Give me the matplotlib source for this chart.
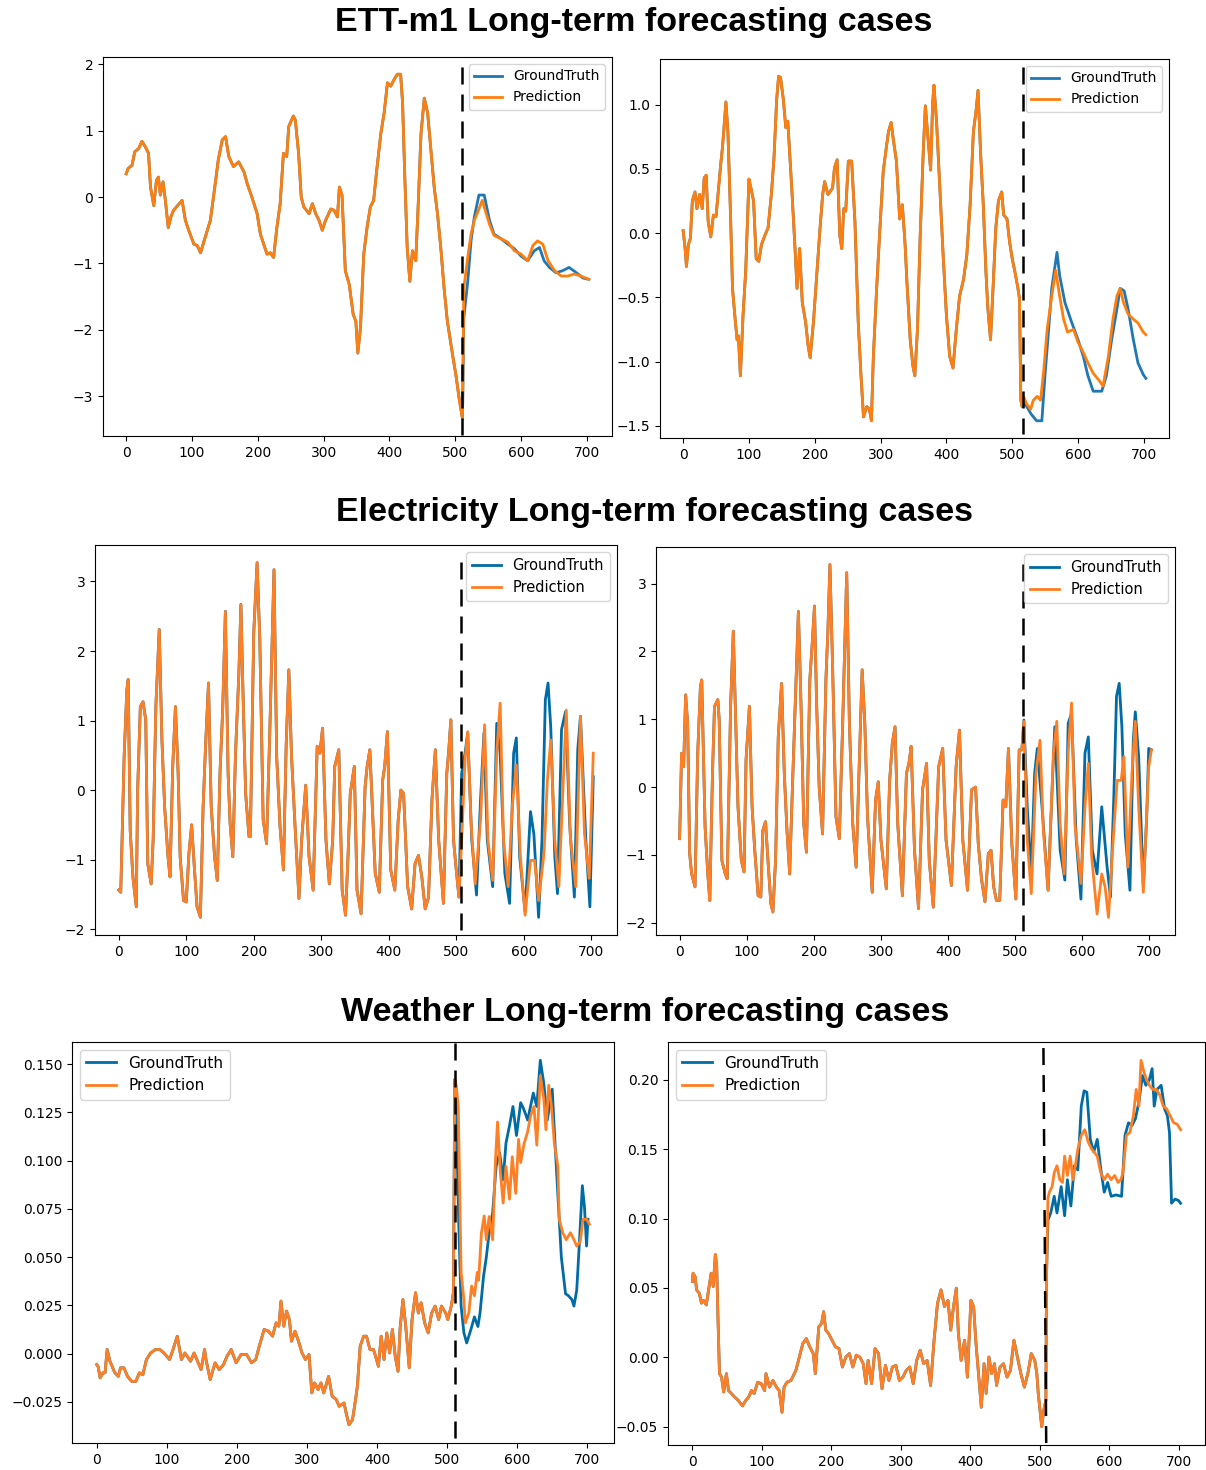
import numpy as np
import matplotlib
matplotlib.use('Agg')
import matplotlib.pyplot as plt

# ---------------- ETT-m1 (row 1) ----------------
ett1_hist_x = [0, 3, 9, 13, 19, 24, 29, 34, 37, 42, 46, 49, 52, 56, 59, 64, 68, 72, 78, 85,
               90, 95, 103, 108, 113, 120, 128, 136, 140, 146, 151, 156, 163, 171, 179, 184, 191, 199, 204, 209,
               214, 219, 224, 229, 234, 239, 244, 247, 254, 257, 262, 266, 270, 278, 283, 288, 293, 298, 303, 311,
               316, 321, 324, 328, 333, 339, 345, 349, 352, 356, 361, 366, 371, 376, 381, 387, 392, 397, 402, 407,
               412, 417, 420, 423, 427, 431, 435, 440, 444, 448, 453, 458, 463, 468, 473, 478, 483, 488, 496, 501,
               506, 511]
ett1_hist_y = [0.35, 0.43, 0.48, 0.68, 0.73, 0.84, 0.76, 0.66, 0.15, -0.13, 0.25, 0.30, 0.03, 0.23, 0.0, -0.46, -0.30, -0.20, -0.13, -0.05,
               -0.35, -0.50, -0.71, -0.73, -0.84, -0.61, -0.35, 0.25, 0.56, 0.86, 0.91, 0.61, 0.46, 0.53, 0.38, 0.20, 0.0, -0.25, -0.56, -0.71,
               -0.86, -0.84, -0.91, -0.46, -0.10, 0.66, 0.61, 1.06, 1.22, 1.16, 0.66, 0.0, -0.15, -0.25, -0.10, -0.25, -0.35, -0.50, -0.35, -0.18,
               -0.20, -0.30, 0.15, 0.03, -1.11, -1.32, -1.77, -1.87, -2.35, -1.97, -0.86, -0.46, -0.15, -0.05, 0.43, 0.96, 1.27, 1.72, 1.67, 1.77,
               1.85, 1.85, 1.42, 0.41, -0.76, -1.27, -0.81, -0.96, -0.05, 0.96, 1.49, 1.27, 0.71, 0.15, -0.25, -0.76, -1.37, -1.87, -2.38, -2.68,
               -3.04, -3.34]
ett1_gt_x = [513, 519, 524, 529, 536, 544, 552, 559, 570, 580, 590, 600, 610, 620, 628, 635, 643, 653, 663, 673, 684, 694, 703]
ett1_gt_y = [-1.82, -1.27, -0.66, -0.30, 0.03, 0.03, -0.35, -0.56, -0.63, -0.71, -0.78, -0.89, -0.96, -0.81, -0.76, -0.96,
             -1.06, -1.14, -1.11, -1.06, -1.14, -1.22, -1.24]
ett1_pred_x = [513, 519, 524, 529, 534, 541, 544, 552, 559, 570, 580, 590, 600, 610, 618, 625, 633, 641, 651, 661, 671, 681, 691, 703]
ett1_pred_y = [-1.37, -0.91, -0.56, -0.35, -0.23, -0.05, -0.15, -0.41, -0.58, -0.63, -0.68, -0.81, -0.86, -0.96, -0.73, -0.66,
               -0.71, -0.96, -1.11, -1.19, -1.19, -1.16, -1.19, -1.24]

ett2_hist_x = [0, 3, 5, 8, 11, 14, 18, 21, 25, 29, 32, 35, 38, 42, 46, 50, 53, 57, 60, 62,
               65, 68, 72, 75, 79, 82, 84, 87, 91, 95, 100, 103, 107, 111, 115, 119, 124, 129, 134, 138,
               142, 145, 148, 152, 156, 159, 165, 170, 173, 177, 181, 186, 190, 193, 198, 203, 208, 212, 215, 220,
               227, 230, 234, 238, 241, 244, 247, 251, 256, 261, 266, 270, 274, 279, 283, 286, 289, 294, 299, 304,
               308, 312, 316, 319, 324, 329, 333, 337, 340, 345, 349, 352, 356, 360, 365, 368, 372, 376, 379, 381,
               385, 390, 395, 400, 405, 410, 415, 420, 426, 431, 436, 441, 445, 448, 452, 456, 460, 463, 467, 471,
               475, 479, 484, 487, 492, 496, 500, 504, 508, 511, 513, 515]
ett2_hist_y = [0.02, -0.12, -0.26, -0.09, -0.04, 0.25, 0.32, 0.19, 0.30, 0.19, 0.43, 0.45, 0.09, -0.03, 0.14, 0.13, 0.30, 0.53, 0.68, 0.82,
               1.02, 0.79, 0.14, -0.43, -0.67, -0.83, -0.80, -1.11, -0.64, -0.30, 0.42, 0.35, 0.25, -0.20, -0.22, -0.09, -0.02, 0.04, 0.30, 0.58,
               1.03, 1.22, 1.21, 1.05, 0.82, 0.87, 0.35, -0.12, -0.43, -0.12, -0.54, -0.69, -0.88, -0.97, -0.69, -0.33, 0.04, 0.30, 0.40, 0.30,
               0.35, 0.51, 0.57, -0.02, -0.12, 0.19, 0.17, 0.56, 0.56, 0.09, -0.69, -1.09, -1.43, -1.35, -1.37, -1.46, -0.96, -0.43, 0.04, 0.48,
               0.64, 0.79, 0.86, 0.74, 0.56, 0.11, 0.22, -0.07, -0.38, -0.83, -1.03, -1.11, -0.75, -0.04, 0.66, 0.99, 0.74, 0.49, 1.00, 1.15,
               0.87, 0.35, -0.17, -0.64, -0.96, -1.05, -0.75, -0.49, -0.36, -0.17, 0.22, 0.79, 0.95, 1.11, 0.61, 0.22, -0.30, -0.59, -0.83, -0.41,
               0.04, 0.25, 0.32, 0.14, 0.11, -0.07, -0.20, -0.30, -0.41, -0.51, -1.30, -1.35]
ett2_gt_x = [517, 522, 529, 537, 545, 550, 555, 560, 568, 572, 580, 590, 600, 608, 615, 623, 636, 643, 651, 659,
             664, 670, 676, 684, 691, 699, 703]
ett2_gt_y = [-1.32, -1.35, -1.41, -1.46, -1.46, -1.09, -0.77, -0.43, -0.15, -0.33, -0.54, -0.69, -0.83, -0.96, -1.11, -1.23,
             -1.23, -1.11, -0.83, -0.59, -0.43, -0.45, -0.59, -0.83, -1.01, -1.10, -1.13]
ett2_pred_x = [517, 522, 528, 532, 538, 543, 548, 553, 560, 566, 572, 578, 584, 593, 600, 608, 615, 623, 631, 638,
               646, 653, 659, 664, 669, 676, 684, 691, 699, 703]
ett2_pred_y = [-1.27, -1.33, -1.37, -1.30, -1.27, -1.30, -1.06, -0.75, -0.49, -0.29, -0.49, -0.67, -0.77, -0.75, -0.85, -0.93,
               -1.01, -1.09, -1.14, -1.19, -0.96, -0.67, -0.49, -0.43, -0.54, -0.63, -0.67, -0.70, -0.77, -0.79]

# ---------------- Electricity (row 2) ----------------
elec1_hist_x = [0, 3, 8, 12, 14, 17, 21, 26, 28, 32, 36, 40, 43, 48, 51, 55, 60, 64, 68, 73,
                76, 80, 84, 88, 91, 96, 100, 104, 108, 112, 116, 121, 125, 129, 133, 137, 142, 146, 150, 154,
                158, 162, 165, 169, 173, 178, 181, 184, 188, 193, 195, 200, 205, 209, 214, 219, 224, 230, 234, 239,
                244, 248, 252, 256, 261, 267, 271, 277, 282, 288, 294, 298, 302, 307, 312, 317, 320, 326, 331, 336,
                340, 343, 349, 353, 359, 365, 368, 372, 380, 386, 391, 394, 398, 403, 409, 414, 418, 422, 428, 434,
                439, 444, 449, 454, 459, 464, 469, 474, 481, 486, 489, 492, 496, 500, 504]
elec1_hist_y = [-1.44, -1.47, 0.48, 1.44, 1.59, -0.58, -1.25, -1.68, 0.0, 1.20, 1.27, 1.01, -1.06, -1.35, -0.72, 1.20, 2.31, 0.72, -0.24, -0.96,
                -1.25, 0.34, 1.20, 0.24, -0.96, -1.59, -1.61, -0.91, -0.50, -1.11, -1.68, -1.83, -0.24, 0.72, 1.54, -0.24, -0.96, -1.30, 0.24, 1.15,
                2.57, 0.24, -0.48, -0.96, 0.53, 1.68, 2.67, 1.44, -0.05, -0.67, -0.67, 2.26, 3.27, 2.16, -0.43, -0.77, 0.91, 3.17, 0.48, -0.53,
                -1.15, 0.63, 1.73, 0.48, -0.48, -1.56, -0.72, 0.07, -0.96, -1.44, 0.63, 0.53, 0.89, -0.72, -1.35, -0.72, 0.34, 0.58, -1.44, -1.80,
                -0.87, -0.05, 0.34, -1.44, -1.78, 0.05, 0.34, 0.58, -1.20, -1.47, 0.14, 0.34, 0.84, -1.15, -1.44, -0.43, 0.0, -0.05, -1.39, -1.71,
                -1.06, -0.94, -1.25, -1.71, -1.54, -0.14, 0.58, -0.72, -1.63, 0.24, 0.58, 1.01, -0.72, -1.15, -1.54]
elec1_gt_x = [508, 513, 517, 523, 530, 536, 541, 546, 554, 560, 565, 572, 579, 585, 589, 594, 602, 610, 615, 622,
              627, 632, 636, 640, 646, 650, 656, 662, 668, 675, 680, 684, 692, 698, 703]
elec1_gt_y = [0.24, 0.53, 0.82, -0.72, -1.51, -0.14, 0.82, -0.72, -1.39, 0.96, 0.53, -1.20, -1.63, 0.53, 0.75, -0.96, -1.75, -0.31, -0.63, -1.83,
              -0.72, 1.30, 1.54, 0.91, -0.96, -1.49, 0.87, 1.13, -0.48, -1.54, 0.58, 1.06, -0.72, -1.68, 0.19]
elec1_pred_x = [508, 513, 517, 522, 528, 536, 542, 547, 554, 560, 565, 570, 577, 583, 589, 595, 602, 610, 616, 622,
                630, 635, 640, 646, 652, 658, 663, 669, 677, 684, 690, 697, 703]
elec1_pred_y = [-0.72, 0.43, 0.84, -0.48, -1.35, -0.43, 0.94, -0.72, -1.30, 0.53, 1.25, -0.72, -1.39, -0.24, 0.36, -0.96, -1.80, -1.01, -1.01, -1.59,
                -0.91, 0.14, 0.72, -0.72, -1.39, 0.0, 1.15, -0.67, -1.39, 1.06, -0.63, -1.27, 0.53]

elec2_hist_x = [0, 3, 6, 9, 12, 15, 18, 23, 27, 31, 33, 38, 42, 45, 49, 52, 57, 59, 63, 68,
                71, 76, 80, 83, 87, 92, 96, 99, 104, 108, 112, 117, 121, 124, 128, 132, 136, 139, 143, 147,
                152, 156, 160, 164, 168, 172, 177, 181, 185, 189, 194, 197, 201, 204, 208, 213, 218, 221, 224, 228,
                233, 238, 243, 249, 253, 258, 263, 268, 272, 276, 280, 287, 292, 296, 300, 308, 313, 317, 321, 325,
                332, 338, 342, 345, 350, 356, 362, 368, 372, 378, 386, 392, 397, 405, 412, 417, 422, 429, 435, 441,
                445, 450, 455, 460, 464, 468, 472, 477, 482, 486, 490, 495, 501, 506, 510]
elec2_hist_y = [-0.76, 0.50, 0.30, 1.36, 0.94, -0.98, -1.28, -1.47, 0.50, 1.48, 1.58, -0.59, -1.28, -1.67, 0.20, 1.19, 1.29, 0.99, -1.08, -1.28,
                -1.35, 1.19, 2.30, 1.19, -0.29, -1.08, -1.25, 0.40, 1.19, -0.29, -0.93, -1.60, -1.62, -0.64, -0.51, -1.13, -1.72, -1.84, -1.08, 0.74,
                1.53, 0.20, -0.64, -1.28, -0.04, 1.14, 2.59, 1.19, -0.54, -0.96, 1.58, 2.02, 2.67, 1.29, 0.0, -0.69, 1.58, 2.32, 3.28, 1.78,
                -0.44, -0.76, 0.94, 3.16, 0.94, -0.54, -1.18, 0.45, 1.73, 0.94, -0.44, -1.55, -0.19, 0.08, -0.78, -1.50, 0.10, 0.65, 0.89, -0.54,
                -1.60, 0.20, 0.37, 0.60, -0.93, -1.79, -0.04, 0.35, -1.08, -1.77, 0.30, 0.57, -0.78, -1.45, 0.30, 0.84, -0.78, -1.52, -0.04, 0.0,
                -0.83, -1.37, -1.69, -0.98, -0.93, -1.47, -1.67, -1.67, -0.19, -0.29, 0.57, -0.83, -1.65, 0.55, 0.55]
elec2_gt_x = [513, 518, 524, 529, 533, 540, 549, 556, 559, 567, 574, 579, 584, 591, 598, 604, 609, 615, 622, 629,
              637, 642, 647, 651, 655, 659, 664, 671, 676, 679, 684, 691, 696, 699, 703]
elec2_gt_y = [0.99, -0.29, -1.28, 0.20, 0.57, -0.29, -1.52, 0.20, 0.89, -0.93, -1.37, 0.94, 1.09, -0.78, -1.65, 0.50, 0.74, -0.93, -1.28, -0.29,
              -1.18, -1.62, -0.14, 1.34, 1.53, 0.89, -0.69, -1.52, 0.69, 1.11, 0.45, -1.47, -0.44, 0.57, 0.55]
elec2_pred_x = [513, 518, 524, 531, 537, 542, 549, 557, 562, 567, 573, 579, 584, 589, 598, 604, 609, 614, 622, 629,
                634, 639, 646, 652, 658, 662, 668, 674, 679, 684, 691, 699, 703]
elec2_pred_y = [0.97, -0.78, -1.57, 0.20, 0.69, -0.64, -1.52, 0.50, 0.97, -0.54, -1.28, 0.50, 1.24, -0.54, -1.42, -0.29, 0.35, -1.03, -1.87, -1.28,
                -1.47, -1.92, -0.78, 0.10, 0.10, 0.45, -1.18, 0.20, 0.97, -0.29, -1.55, 0.30, 0.55]

# ---------------- Weather (row 3) ----------------
wth1_hist_x = [0, 2, 5, 9, 12, 15, 19, 24, 26, 31, 34, 39, 44, 50, 56, 61, 66, 71, 77, 84,
               90, 96, 104, 109, 115, 121, 126, 134, 139, 143, 149, 154, 156, 162, 169, 175, 181, 186, 192, 199,
               206, 214, 221, 227, 232, 239, 245, 251, 256, 260, 263, 267, 271, 275, 278, 283, 288, 293, 298, 303,
               307, 311, 316, 320, 324, 331, 336, 342, 346, 353, 356, 360, 365, 368, 372, 376, 381, 385, 390, 395,
               398, 402, 406, 410, 414, 418, 422, 426, 430, 433, 437, 441, 446, 450, 455, 459, 463, 468, 473, 478,
               483, 488, 492, 498, 501, 506, 509, 511]
wth1_hist_y = [-0.0057, -0.0066, -0.0126, -0.010, -0.010, 0.0021, -0.004, -0.0083, -0.010, -0.0118,
               -0.0074, -0.0074, -0.0118, -0.0144, -0.0144, -0.010, -0.011, -0.0031, 0.0003, 0.0021,
               0.0021, 0.0003, -0.0031, 0.0021, 0.009, -0.0031, 0.0003, -0.004, 0.0003, -0.0031,
               -0.0083, 0.0021, -0.0031, -0.0135, -0.0048, -0.0083, -0.0057, -0.0014, 0.0021, -0.0048,
               -0.0005, -0.0005, -0.0048, -0.0031, 0.0038, 0.0125, 0.0116, 0.009, 0.0159, 0.0142,
               0.0272, 0.0142, 0.022, 0.0176, 0.0064, 0.0116, 0.0064, 0.0003, -0.0031, -0.0005,
               -0.0204, -0.0152, -0.0187, -0.0152, -0.0204, -0.0118, -0.0221, -0.0239, -0.0273, -0.0256,
               -0.0308, -0.0369, -0.0343, -0.0273, -0.017, 0.0038, 0.009, 0.009, 0.0021, 0.0021,
               -0.0014, -0.0066, 0.009, -0.0031, 0.0107, 0.0003, 0.0125, -0.0014, -0.0092, 0.0133,
               0.028, 0.0142, -0.0074, 0.0176, 0.0315, 0.021, 0.0263, 0.0159, 0.0107, 0.021,
               0.0246, 0.0176, 0.0246, 0.021, 0.0176, 0.0246, 0.0315, 0.142]
wth1_gt_x = [513, 516, 520, 524, 528, 534, 539, 544, 547, 552, 556, 560, 565, 570, 575, 580, 584, 589, 594, 599,
             605, 609, 615, 623, 628, 633, 638, 643, 650, 654, 658, 663, 669, 673, 678, 681, 685, 689, 693, 696,
             699, 701]
wth1_gt_y = [0.128, 0.076, 0.0246, 0.0107, 0.0055, 0.0125, 0.019, 0.014, 0.021, 0.040,
             0.050, 0.0626, 0.073, 0.097, 0.104, 0.090, 0.109, 0.118, 0.128, 0.113,
             0.130, 0.127, 0.121, 0.135, 0.128, 0.152, 0.140, 0.121, 0.137, 0.109,
             0.083, 0.050, 0.031, 0.030, 0.028, 0.0246, 0.033, 0.059, 0.087, 0.076,
             0.0557, 0.0696]
wth1_pred_x = [513, 516, 520, 524, 526, 531, 535, 539, 543, 545, 549, 553, 556, 560, 565, 569, 572, 576, 580, 584,
               589, 593, 598, 602, 605, 610, 615, 619, 624, 628, 633, 638, 641, 645, 649, 653, 658, 660, 665, 670,
               676, 681, 685, 690, 694, 699, 703]
wth1_pred_y = [0.139, 0.128, 0.042, 0.028, 0.0159, 0.021, 0.035, 0.030, 0.042, 0.038,
               0.0626, 0.0713, 0.059, 0.071, 0.059, 0.100, 0.120, 0.094, 0.078, 0.097,
               0.080, 0.102, 0.083, 0.111, 0.099, 0.109, 0.115, 0.123, 0.128, 0.108,
               0.144, 0.132, 0.116, 0.139, 0.128, 0.109, 0.097, 0.0696, 0.0626, 0.059,
               0.0626, 0.059, 0.0557, 0.058, 0.0696, 0.0696, 0.067]

wth2_hist_x = [0, 1, 4, 6, 10, 13, 16, 20, 24, 27, 30, 33, 35, 37, 39, 42, 45, 49, 52, 56,
               61, 66, 72, 77, 81, 85, 89, 94, 99, 104, 106, 111, 116, 121, 125, 129, 132, 136, 142, 149,
               154, 159, 164, 169, 174, 177, 182, 186, 189, 192, 196, 201, 206, 211, 216, 221, 226, 231, 236, 241,
               246, 250, 253, 258, 263, 268, 273, 278, 283, 288, 293, 298, 303, 308, 313, 318, 323, 328, 333, 338,
               343, 348, 353, 358, 363, 368, 372, 376, 380, 383, 387, 392, 396, 401, 405, 408, 412, 416, 420, 423,
               427, 431, 435, 438, 443, 448, 453, 458, 463, 468, 473, 478, 483, 488, 493, 496, 498, 503, 506, 509]
wth2_hist_y = [0.0546, 0.0606, 0.058, 0.0486, 0.046, 0.039, 0.041, 0.0377, 0.051, 0.0606,
               0.051, 0.074, 0.0655, 0.0244, -0.0118, -0.0143, -0.025, -0.0118, -0.024, -0.026,
               -0.0287, -0.031, -0.035, -0.031, -0.0287, -0.024, -0.026, -0.018, -0.019, -0.024,
               -0.0118, -0.0215, -0.0167, -0.0215, -0.024, -0.0396, -0.0215, -0.018, -0.0167, -0.0094,
               0.0002, 0.0099, 0.0135, 0.0075, 0.0027, -0.0118, 0.022, 0.0244, 0.0329, 0.0196,
               0.0172, 0.0123, 0.0075, 0.0063, -0.007, 0.0002, 0.0027, -0.007, 0.0015, 0.0002,
               -0.0046, -0.019, -0.0022, -0.019, 0.0063, 0.0027, -0.0227, -0.0058, -0.0167, -0.007,
               -0.0058, -0.0167, -0.0143, -0.0094, -0.007, -0.019, -0.0022, 0.0051, -0.0046, -0.0022,
               -0.0203, 0.0123, 0.039, 0.0486, 0.0365, 0.041, 0.0196, 0.0365, 0.0498, 0.0172,
               -0.0022, 0.0123, -0.0143, 0.041, 0.0365, 0.0123, -0.0118, -0.036, -0.0046, -0.026,
               0.0002, -0.0118, -0.0046, -0.0203, -0.007, -0.0046, -0.0143, -0.0094, 0.0123, 0.0002,
               -0.0118, -0.0215, -0.0118, 0.0027, -0.0022, -0.0118, -0.026, -0.050, -0.038, -0.031]
wth2_gt_x = [510, 512, 516, 521, 525, 531, 536, 540, 545, 550, 555, 560, 564, 568, 573, 578, 583, 588, 593, 598,
             603, 610, 618, 623, 628, 633, 638, 643, 648, 653, 658, 662, 665, 669, 675, 680, 684, 687, 690, 695,
             700, 703]
wth2_gt_y = [0.0606, 0.099, 0.104, 0.116, 0.104, 0.123, 0.102, 0.128, 0.109, 0.138,
             0.135, 0.181, 0.192, 0.191, 0.157, 0.148, 0.157, 0.136, 0.119, 0.126,
             0.116, 0.117, 0.116, 0.160, 0.169, 0.167, 0.172, 0.184, 0.203, 0.196,
             0.200, 0.208, 0.181, 0.193, 0.196, 0.179, 0.174, 0.162, 0.111, 0.114,
             0.113, 0.111]
wth2_pred_x = [510, 512, 514, 518, 521, 525, 529, 533, 536, 540, 544, 548, 552, 555, 560, 565, 570, 575, 583, 588,
               593, 598, 603, 608, 613, 617, 620, 625, 630, 635, 639, 643, 646, 650, 654, 658, 663, 668, 673, 678,
               683, 688, 693, 698, 703]
wth2_pred_y = [0.0606, 0.115, 0.119, 0.123, 0.133, 0.138, 0.128, 0.126, 0.145, 0.131,
               0.145, 0.128, 0.140, 0.150, 0.160, 0.164, 0.155, 0.150, 0.145, 0.133,
               0.128, 0.132, 0.128, 0.131, 0.126, 0.128, 0.133, 0.160, 0.162, 0.174,
               0.193, 0.181, 0.214, 0.206, 0.200, 0.196, 0.193, 0.193, 0.189, 0.181,
               0.179, 0.174, 0.169, 0.168, 0.164]

titles = ['ETT-m1 Long-term forecasting cases',
          'Electricity Long-term forecasting cases',
          'Weather Long-term forecasting cases']


def draw_case(ax, hx, hy, gx, gy, px, py, split, colors, loc, fs, top, bottom, split_bottom=None):
    """画一个预测样例：历史 + 真实值 / 预测值"""
    ax.plot(hx + gx, hy + gy, color=colors[0], lw=2, label='GroundTruth')
    ax.plot(hx + px, hy + py, color=colors[1], lw=2, label='Prediction')
    # 分割线（输入 / 预测）
    if split_bottom is None:
        split_bottom = split
    ax.plot([split, split_bottom], [top, bottom], color='k', lw=1.8,
            linestyle=(0, (6.8, 4)), transform=ax.get_xaxis_transform())
    ax.legend(loc=loc, fontsize=fs)
    ax.tick_params(labelsize=10)


W, H = 1206, 1470
fig = plt.figure(figsize=(W / 100, H / 100), dpi=100)


def add_ax(l, t, r, b):
    return fig.add_axes([l / W, 1 - b / H, (r - l) / W, (b - t) / H])


c_top = ('#1f77b4', '#ff7f0e')
c_low = ('#006BA4', '#FF7F24')

ax = add_ax(103, 57, 612, 436)
draw_case(ax, ett1_hist_x, ett1_hist_y, ett1_gt_x, ett1_gt_y, ett1_pred_x, ett1_pred_y,
          510, c_top, 'upper right', 10, 0.974, 0.0)
ax = add_ax(660, 59, 1169, 438)
draw_case(ax, ett2_hist_x, ett2_hist_y, ett2_gt_x, ett2_gt_y, ett2_pred_x, ett2_pred_y,
          516, c_top, 'upper right', 10, 0.98, 0.01)

ax = add_ax(95, 545, 617, 935)
draw_case(ax, elec1_hist_x, elec1_hist_y, elec1_gt_x, elec1_gt_y, elec1_pred_x, elec1_pred_y,
          507, c_low, 'upper right', 10.5, 0.957, 0.01)
ax = add_ax(656, 547, 1175, 935)
draw_case(ax, elec2_hist_x, elec2_hist_y, elec2_gt_x, elec2_gt_y, elec2_pred_x, elec2_pred_y,
          511, c_low, 'upper right', 10.5, 0.955, 0.01)

ax = add_ax(72, 1042, 614, 1443)
draw_case(ax, wth1_hist_x, wth1_hist_y, wth1_gt_x, wth1_gt_y, wth1_pred_x, wth1_pred_y,
          512, c_low, 'upper left', 11, 0.997, 0.012)
ax = add_ax(668, 1042, 1205, 1445)
draw_case(ax, wth2_hist_x, wth2_hist_y, wth2_gt_x, wth2_gt_y, wth2_pred_x, wth2_pred_y,
          505.5, c_low, 'upper left', 11, 0.985, 0.0, split_bottom=509.5)

# 每行的大标题
for title, (cx, cy) in zip(titles, [(634, 23), (655, 512), (645, 1012)]):
    fig.text(cx / W, 1 - cy / H, title, ha='center', va='center',
             fontsize=24.5, fontweight='bold', family=['Liberation Sans', 'DejaVu Sans'])

plt.savefig('out.png', dpi=100)
